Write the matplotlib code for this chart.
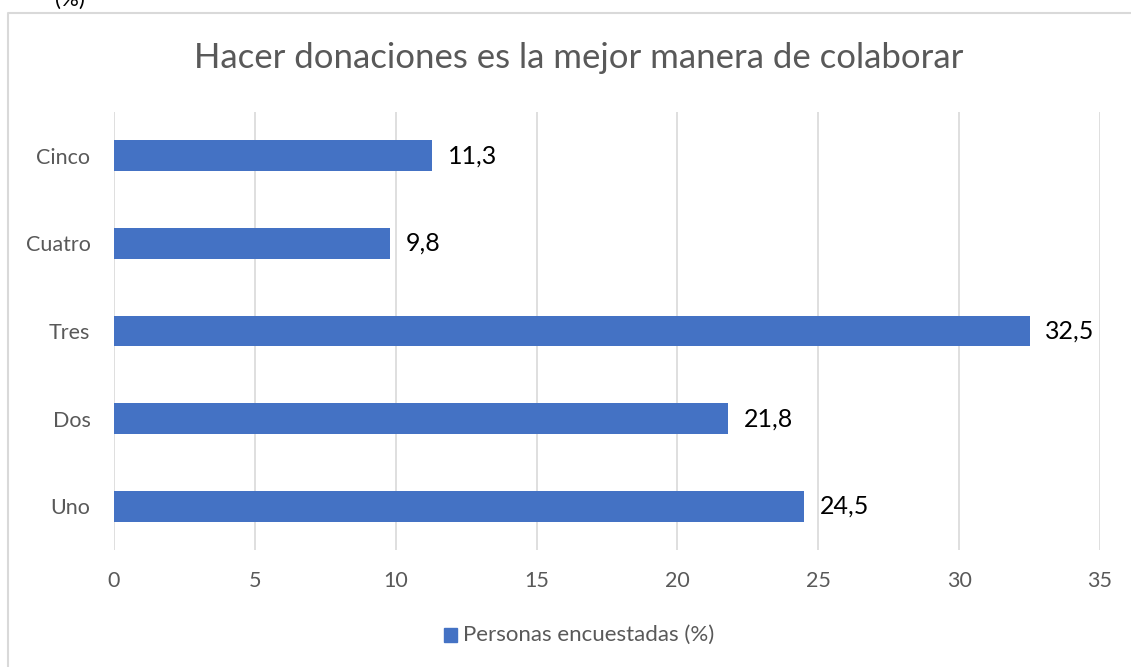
import matplotlib.pyplot as plt
from matplotlib.lines import Line2D

categorias = ["Uno", "Dos", "Tres", "Cuatro", "Cinco"]
valores = [24.5, 21.8, 32.5, 9.8, 11.3]
etiquetas = ["24,5", "21,8", "32,5", "9,8", "11,3"]
ticks_x = [0, 5, 10, 15, 20, 25, 30, 35]

plt.rcParams['font.family'] = ['Lato', 'DejaVu Sans']

fig = plt.figure(figsize=(11.31, 6.67), dpi=100)
ax = fig.add_axes([114 / 1131, 1 - 550 / 667, (1100 - 114) / 1131, (550 - 112) / 667])

gris = "#595959"
ax.barh(categorias, valores, height=0.35, color="#4472C4", zorder=3)
ax.set_xlim(0, 35)
ax.set_ylim(-0.5, 4.5)
ax.set_xticks(ticks_x)
ax.grid(axis="x", color="#d9d9d9", linewidth=1.2, zorder=0)
for s in ax.spines.values():
    s.set_visible(False)
ax.tick_params(length=0, colors=gris, labelsize=15.5)
ax.tick_params(axis="x", pad=15)
ax.tick_params(axis="y", pad=17)

for i, (v, t) in enumerate(zip(valores, etiquetas)):
    ax.annotate(t, (v, i), xytext=(11, 0), textcoords="offset points",
                va="center", ha="left", fontsize=18, color="black")

cx = 579 / 1131
fig.text(cx, 1 - 58 / 667, "Hacer donaciones es la mejor manera de colaborar",
         ha="center", va="center", fontsize=25, color=gris)

# leyenda
fig.patches.append(plt.Rectangle((444 / 1131, 1 - 642 / 667), 13 / 1131, 14 / 667,
                                 transform=fig.transFigure, color="#4472C4"))
fig.text(463 / 1131, 1 - 635 / 667, "Personas encuestadas (%)", ha="left", va="center",
         fontsize=16, color=gris)

# borde del área del gráfico
fig.add_artist(Line2D([8 / 1131, 8 / 1131, 1], [0, 1 - 13 / 667, 1 - 13 / 667],
                      transform=fig.transFigure, color="#d9d9d9", linewidth=1.5))

fig.text(70 / 1131, 1 - 6 / 667, "(%)", ha="center", va="baseline", fontsize=16, color="black")

fig.savefig("out.png", dpi=100, facecolor="white")
